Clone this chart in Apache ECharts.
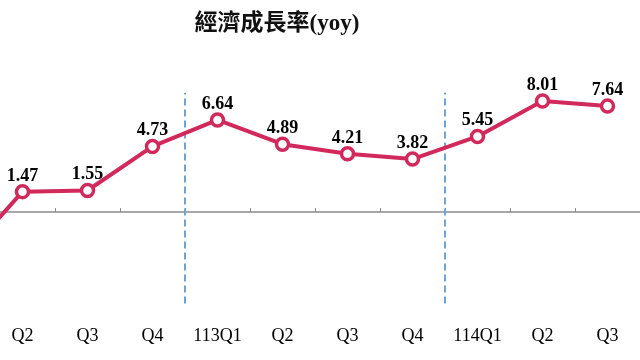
<!DOCTYPE html>
<html><head><meta charset="utf-8">
<script src="https://cdn.jsdelivr.net/npm/echarts@6/dist/echarts.min.js"></script>
<style>html,body{margin:0;padding:0;background:#fff;overflow:hidden;width:640px;height:360px;position:relative}
#c{position:absolute;left:-75px;top:0;width:715px;height:360px}</style>
</head><body><div id="c"></div>
<script>
// Categories (first one is the cut-off previous quarter, off the left edge)
const categories = ['112Q1', 'Q2', 'Q3', 'Q4', '113Q1', 'Q2', 'Q3', 'Q4', '114Q1', 'Q2', 'Q3'];
const gdpGrowth = [-3.8, 1.47, 1.55, 4.73, 6.64, 4.89, 4.21, 3.82, 5.45, 8.01, 7.64];
const labelShown = [false, true, true, true, true, true, true, true, true, true, true];
// year dividers: category boundary index, and vertical extent in value units
const dividerPositions = [4, 8];
const dividerRange = [-6.6, 8.6];
const titleText = '經濟成長率(yoy)';

const chart = echarts.init(document.getElementById('c'), null, {renderer: 'canvas'});
const serif = "'Liberation Serif', 'Times New Roman', 'Noto Sans CJK TC', serif";
const red = '#D2295C';

const series = [{
  type: 'line',
  xAxisIndex: 0,
  yAxisIndex: 0,
  data: gdpGrowth.map((v, i) => ({value: v, label: {show: labelShown[i]}})),
  symbol: 'circle',
  symbolSize: 12,
  itemStyle: {color: '#fff', borderColor: red, borderWidth: 3.5},
  lineStyle: {color: red, width: 4},
  label: {
    show: true, position: 'top', distance: -1,
    color: '#000', fontFamily: serif, fontWeight: 'bold', fontSize: 18,
    formatter: p => p.value.toFixed(2)
  },
  z: 5,
  animation: false
}];
dividerPositions.forEach(d => {
  series.push({
    type: 'line',
    xAxisIndex: 2,
    yAxisIndex: 0,
    data: [[d, dividerRange[0]], [d, dividerRange[1]]],
    symbol: 'none',
    lineStyle: {color: '#6FA3D3', width: 2, type: [7, 4]},
    silent: true,
    z: 2,
    animation: false
  });
});

chart.setOption({
  animation: false,
  title: {
    text: titleText,
    left: 347, top: 8, textAlign: 'center',
    textStyle: {fontFamily: serif, fontSize: 23, fontWeight: 'bold', color: '#111'}
  },
  grid: {left: 0, right: 0, top: 73.4, bottom: 37.1, containLabel: false},
  xAxis: [{
    type: 'category',
    data: categories,
    position: 'bottom',
    boundaryGap: true,
    axisLine: {show: true, onZero: true, lineStyle: {color: '#8a8a8a', width: 1.5}},
    axisTick: {show: true, inside: true, length: 4, lineStyle: {color: '#8a8a8a'}},
    axisLabel: {show: false},
    splitLine: {show: false}
  }, {
    type: 'category',
    data: categories,
    position: 'bottom',
    boundaryGap: true,
    axisLine: {show: false, onZero: false},
    axisTick: {show: false},
    axisLabel: {show: true, margin: 4, color: '#000', fontFamily: serif, fontSize: 18, interval: 0},
    splitLine: {show: false}
  }, {
    type: 'value',
    min: 0, max: categories.length,
    show: false
  }],
  yAxis: [{
    type: 'value',
    min: -8, max: 10,
    show: false,
    splitLine: {show: false}
  }],
  series: series
});
</script></body></html>
